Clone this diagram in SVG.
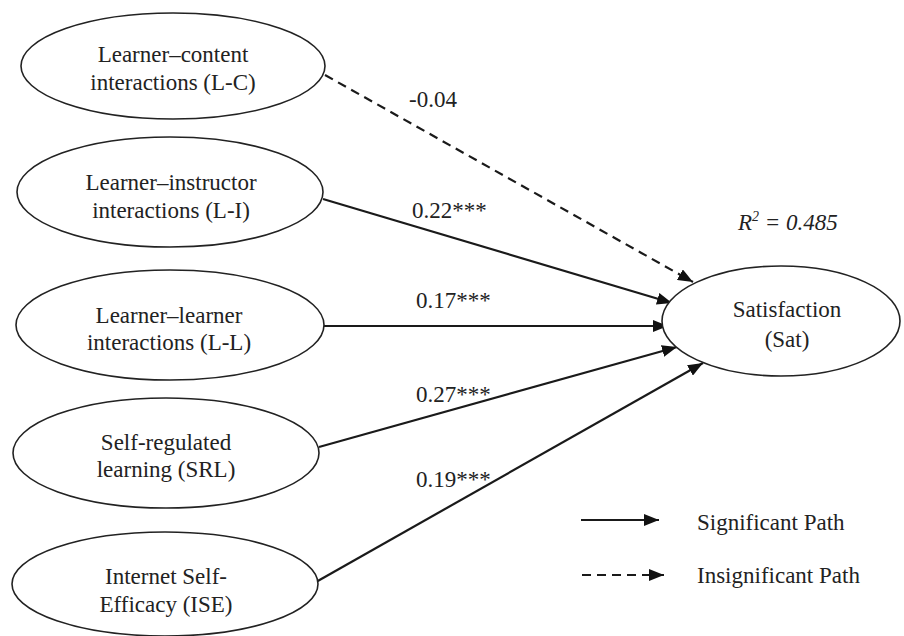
<svg xmlns="http://www.w3.org/2000/svg" width="904" height="636" viewBox="0 0 904 636">
<style>
  .node ellipse { fill: #fff; stroke: #222; stroke-width: 1.6; }
  text { font-family: 'Liberation Serif', 'Times New Roman', serif; font-size: 23px; fill: #222; }
  .nl { text-anchor: middle; }
  .path { stroke: #1a1a1a; stroke-width: 2.2; fill: none; }
  .dash { stroke-dasharray: 9 6; }
</style>
<defs>
  <marker id="ah" markerUnits="userSpaceOnUse" markerWidth="16" markerHeight="12" refX="15" refY="6" orient="auto">
    <path d="M0,0 L15,6 L0,12 z" fill="#111"/>
  </marker>
</defs>
<rect width="904" height="636" fill="#fff"/>

<g id="connectors">
  <line class="path dash" x1="325" y1="75" x2="693" y2="282" marker-end="url(#ah)"/>
  <line class="path" x1="323" y1="199" x2="672" y2="303" marker-end="url(#ah)"/>
  <line class="path" x1="323" y1="326" x2="668" y2="326" marker-end="url(#ah)"/>
  <line class="path" x1="319" y1="447" x2="677" y2="347" marker-end="url(#ah)"/>
  <line class="path" x1="316" y1="582" x2="703" y2="363" marker-end="url(#ah)"/>
  <text x="409" y="107">-0.04</text>
  <text x="412" y="218">0.22***</text>
  <text x="416" y="308">0.17***</text>
  <text x="416" y="402">0.27***</text>
  <text x="416" y="487">0.19***</text>
</g>

<g id="lc" class="node">
  <ellipse cx="173" cy="66" rx="152" ry="53"/>
  <text class="nl" x="173" y="62">Learner–content</text>
  <text class="nl" x="173" y="90">interactions (L-C)</text>
</g>
<g id="li" class="node">
  <ellipse cx="170" cy="192" rx="153" ry="55"/>
  <text class="nl" x="171" y="190">Learner–instructor</text>
  <text class="nl" x="171" y="218">interactions (L-I)</text>
</g>
<g id="ll" class="node">
  <ellipse cx="170" cy="325" rx="154" ry="55"/>
  <text class="nl" x="169" y="323">Learner–learner</text>
  <text class="nl" x="169" y="350">interactions (L-L)</text>
</g>
<g id="srl" class="node">
  <ellipse cx="166" cy="453" rx="153" ry="55"/>
  <text class="nl" x="166" y="450">Self-regulated</text>
  <text class="nl" x="166" y="477">learning (SRL)</text>
</g>
<g id="ise" class="node">
  <ellipse cx="165" cy="584" rx="153" ry="52"/>
  <text class="nl" x="166" y="584">Internet Self-</text>
  <text class="nl" x="166" y="612">Efficacy (ISE)</text>
</g>
<g id="sat" class="node">
  <ellipse cx="781" cy="321" rx="119" ry="55"/>
  <text class="nl" x="787" y="317">Satisfaction</text>
  <text class="nl" x="787" y="347">(Sat)</text>
</g>

<text x="738" y="230" font-style="italic">R<tspan font-size="14" dy="-9">2</tspan><tspan dy="9"> = 0.485</tspan></text>

<g id="legend">
  <line class="path" x1="581" y1="520" x2="659" y2="520" marker-end="url(#ah)"/>
  <line class="path dash" x1="582" y1="575" x2="664" y2="575" marker-end="url(#ah)"/>
  <text x="697" y="530">Significant Path</text>
  <text x="697" y="583">Insignificant Path</text>
</g>
</svg>
